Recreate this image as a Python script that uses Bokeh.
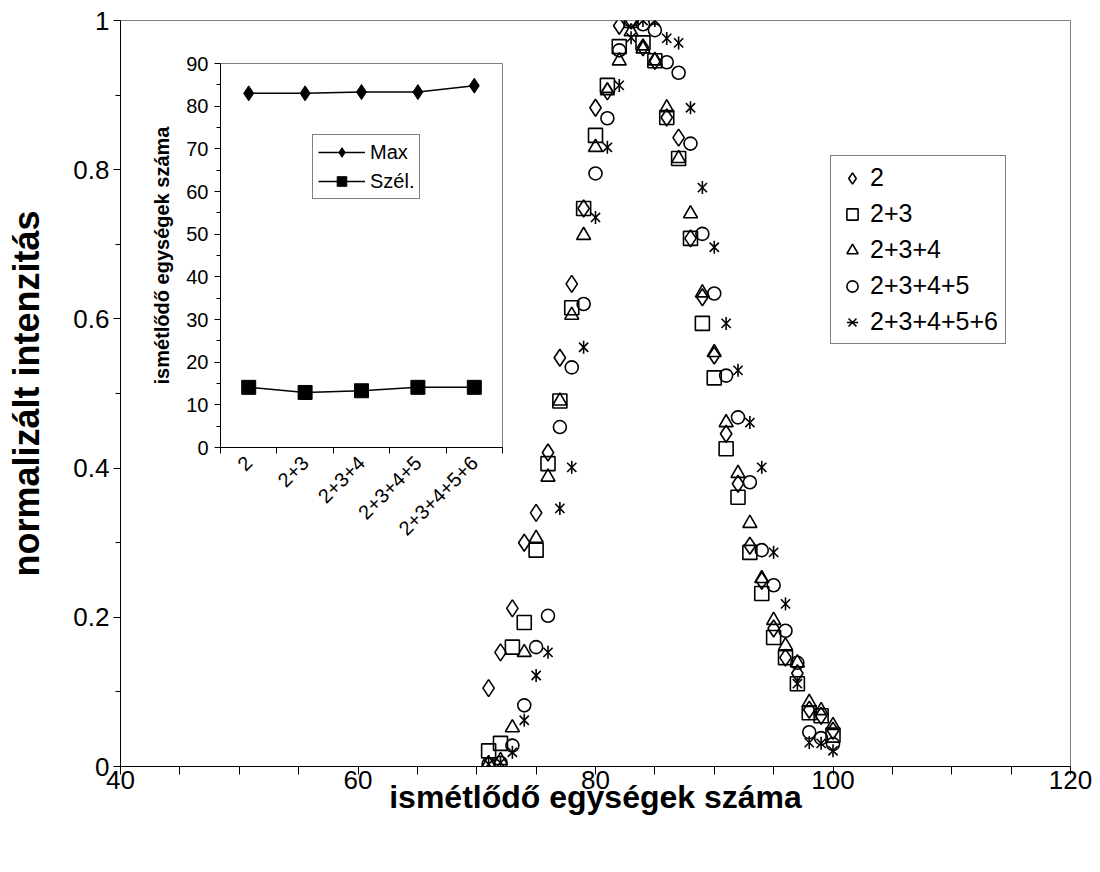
import math
from bokeh.plotting import figure
from bokeh.models import Range1d, FixedTicker, Legend, LegendItem, NumeralTickFormatter
from bokeh.layouts import column
from bokeh.embed import file_html
from bokeh.resources import INLINE

# ---------------- data ----------------
repeat_units = list(range(71, 101))
int_2 = [0.105, 0.153, 0.212, 0.300, 0.340, 0.421, 0.548, 0.647, 0.748, 0.883,
         0.905, 0.993, 1.000, 0.964, 0.946, 0.870, 0.843, 0.708, 0.629, 0.551,
         0.446, 0.379, 0.296, 0.249, 0.185, 0.146, 0.125, 0.076, 0.068, 0.048]
int_23 = [0.021, 0.031, 0.160, 0.193, 0.290, 0.406, 0.490, 0.615, 0.748, 0.846,
          0.913, 0.965, 1.000, 0.970, 0.946, 0.870, 0.815, 0.708, 0.594, 0.521,
          0.426, 0.361, 0.287, 0.232, 0.173, 0.146, 0.111, 0.072, 0.068, 0.042]
int_234 = [0.004, 0.008, 0.052, 0.153, 0.306, 0.388, 0.490, 0.605, 0.712, 0.830,
           0.906, 0.946, 0.985, 0.962, 0.946, 0.883, 0.815, 0.741, 0.635, 0.555,
           0.461, 0.393, 0.326, 0.252, 0.196, 0.162, 0.139, 0.086, 0.075, 0.055]
int_2345 = [0.003, 0.005, 0.028, 0.082, 0.160, 0.202, 0.455, 0.535, 0.620, 0.795,
            0.869, 0.960, 1.000, 0.995, 0.987, 0.944, 0.930, 0.835, 0.714, 0.634,
            0.524, 0.468, 0.381, 0.290, 0.243, 0.182, 0.139, 0.046, 0.038, 0.030]
int_23456 = [0.003, 0.005, 0.019, 0.062, 0.122, 0.153, 0.346, 0.401, 0.562, 0.736,
             0.830, 0.913, 0.977, 1.000, 1.000, 0.976, 0.970, 0.883, 0.776, 0.696,
             0.594, 0.531, 0.461, 0.401, 0.287, 0.218, 0.111, 0.032, 0.031, 0.021]
series_labels = ["2", "2+3", "2+3+4", "2+3+4+5", "2+3+4+5+6"]

x_ticks = [40, 60, 80, 100, 120]
x_minor_ticks = [45, 50, 55, 65, 70, 75, 85, 90, 95, 105, 110, 115]
y_ticks = [0, 0.2, 0.4, 0.6, 0.8, 1.0]
y_minor_ticks = [0.1, 0.3, 0.5, 0.7, 0.9]

inset_mixtures = series_labels
inset_max = [83.0, 83.0, 83.3, 83.3, 84.8]
inset_width = [14.1, 12.9, 13.3, 14.1, 14.1]
inset_y_ticks = [0, 10, 20, 30, 40, 50, 60, 70, 80, 90]
inset_y_minor = [5, 15, 25, 35, 45, 55, 65, 75, 85]
inset_series = ["Max", "Szél."]

FONT = "Liberation Sans"


def style_axis(ax, label_size, title_size):
    ax.axis_line_color = "black"
    ax.axis_line_width = 1
    ax.major_tick_line_color = "black"
    ax.minor_tick_line_color = "black"
    ax.major_label_text_font = FONT
    ax.major_label_text_font_size = label_size
    ax.major_label_text_color = "black"
    ax.axis_label_text_font = FONT
    ax.axis_label_text_font_size = title_size
    ax.axis_label_text_font_style = "bold"
    ax.axis_label_text_color = "black"


# ---------------- main figure ----------------
MAIN_H = 872
p = figure(width=1100, height=MAIN_H, x_range=Range1d(40, 120), y_range=Range1d(0, 1),
           output_backend="svg", toolbar_location=None,
           min_border_left=120, min_border_right=30, min_border_top=20, min_border_bottom=106,
           background_fill_color="white", border_fill_color="white",
           outline_line_color="#808080")
p.grid.visible = False

xa = p.xaxis[0]
style_axis(xa, "26px", "32px")
xa.ticker = FixedTicker(ticks=x_ticks, minor_ticks=x_minor_ticks)
xa.major_tick_in = 0
xa.major_tick_out = 8
xa.minor_tick_in = 0
xa.minor_tick_out = 8
xa.major_label_standoff = -4
xa.axis_label = "ismétlődő egységek száma"
xa.axis_label_standoff = -13

ya = p.yaxis[0]
style_axis(ya, "26px", "36px")
ya.ticker = FixedTicker(ticks=y_ticks, minor_ticks=y_minor_ticks)
ya.formatter = NumeralTickFormatter(format="0.[0]")
ya.major_tick_in = 0
ya.major_tick_out = 7
ya.minor_tick_in = 0
ya.minor_tick_out = 5
ya.major_label_standoff = 4
ya.axis_label = "normalizált intenzitás"
ya.axis_label_standoff = 23

common = dict(line_color="black", line_width=1.6, fill_color=None)
r1 = p.scatter(repeat_units, int_2, marker="diamond", size=17, **common)
r2 = p.scatter(repeat_units, int_23, marker="square", size=14, **common)
r3 = p.scatter(repeat_units, int_234, marker="triangle", size=14, **common)
r4 = p.scatter(repeat_units, int_2345, marker="circle", size=13, **common)
r5a = p.scatter(repeat_units, int_23456, marker="x", size=13, **common)
r5b = p.scatter(repeat_units, int_23456, marker="dash", angle=math.pi / 2, size=13, **common)

legend = Legend(items=[
    LegendItem(label=series_labels[0], renderers=[r1]),
    LegendItem(label=series_labels[1], renderers=[r2]),
    LegendItem(label=series_labels[2], renderers=[r3]),
    LegendItem(label=series_labels[3], renderers=[r4]),
    LegendItem(label=series_labels[4], renderers=[r5a, r5b]),
], location=(710, 422))
legend.border_line_color = "black"
legend.border_line_width = 1
legend.background_fill_color = "white"
legend.label_text_font = FONT
legend.label_text_font_size = "25px"
legend.label_text_color = "black"
legend.glyph_width = 28
legend.glyph_height = 28
legend.label_height = 28
legend.spacing = 7
legend.padding = 7
legend.label_standoff = 4
p.add_layout(legend)

# ---------------- inset figure ----------------
INSET_TOP = 50
q = figure(width=432, height=494, x_range=Range1d(0, 5), y_range=Range1d(0, 90),
           output_backend="svg", toolbar_location=None,
           min_border_left=78, min_border_right=5, min_border_top=13, min_border_bottom=80,
           background_fill_color="white", border_fill_color=None,
           outline_line_color="#808080")
q.grid.visible = False
q.margin = (INSET_TOP - MAIN_H, 0, 0, 100)

inset_x = [i + 0.5 for i in range(len(inset_mixtures))]

qx = q.xaxis[0]
style_axis(qx, "20px", "20px")
qx.ticker = FixedTicker(ticks=inset_x, minor_ticks=[float(i) for i in range(len(inset_mixtures) + 1)])
qx.major_label_overrides = {xv: lab for xv, lab in zip(inset_x, inset_mixtures)}
qx.major_tick_in = 0
qx.major_tick_out = 0
qx.minor_tick_in = 0
qx.minor_tick_out = 6
qx.major_label_orientation = math.pi / 4
qx.major_label_standoff = 6

qy = q.yaxis[0]
style_axis(qy, "20px", "20px")
qy.ticker = FixedTicker(ticks=inset_y_ticks, minor_ticks=inset_y_minor)
qy.major_tick_in = 0
qy.major_tick_out = 6
qy.minor_tick_in = 0
qy.minor_tick_out = 4
qy.major_label_standoff = 6
qy.axis_label = "ismétlődő egységek száma"
qy.axis_label_standoff = 10

l1 = q.line(inset_x, inset_max, line_color="black", line_width=1.5)
m1 = q.scatter(inset_x, inset_max, marker="diamond", size=15,
               line_color="black", fill_color="black")
l2 = q.line(inset_x, inset_width, line_color="black", line_width=1.5)
m2 = q.scatter(inset_x, inset_width, marker="square", size=14,
               line_color="black", fill_color="black")

qleg = Legend(items=[
    LegendItem(label=inset_series[0], renderers=[l1, m1]),
    LegendItem(label=inset_series[1], renderers=[l2, m2]),
], location=(92, 248))
qleg.border_line_color = "black"
qleg.border_line_width = 1
qleg.background_fill_color = "white"
qleg.label_text_font = FONT
qleg.label_text_font_size = "20px"
qleg.label_text_color = "black"
qleg.glyph_width = 47
qleg.glyph_height = 24
qleg.label_height = 24
qleg.spacing = 5
qleg.padding = 5
qleg.label_standoff = 5
q.add_layout(qleg)

layout = column(p, q)
open("out.html", "w").write(file_html(layout, INLINE))
